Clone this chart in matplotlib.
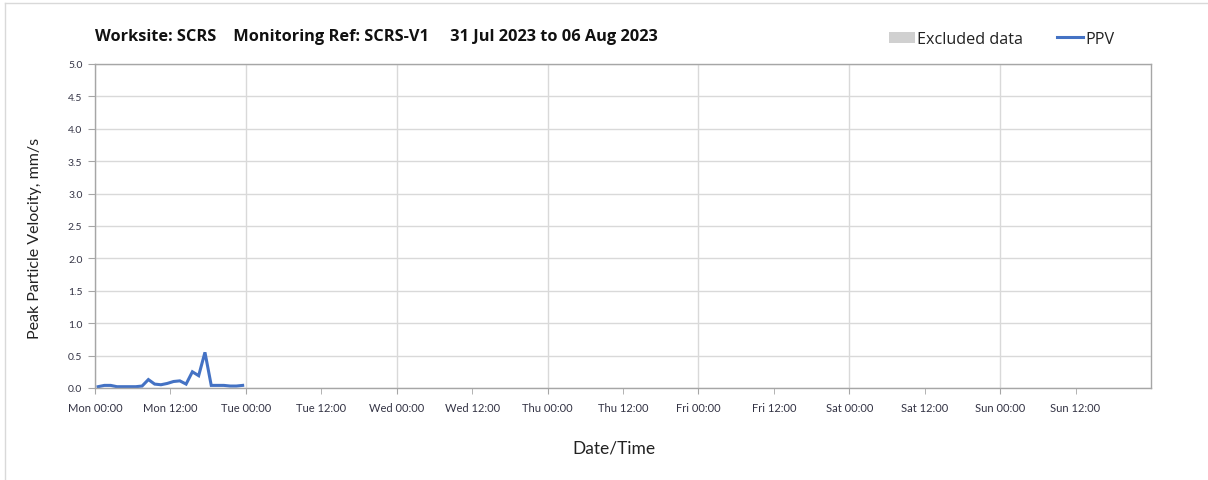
import numpy as np
import pandas as pd
import matplotlib
matplotlib.use("Agg")
import matplotlib.pyplot as plt
import matplotlib.dates as mdates
from matplotlib.patches import Patch
from matplotlib.lines import Line2D

plt.rcParams['font.family'] = ['Lato', 'DejaVu Sans']

# hourly PPV readings (mm/s), first day only
start = pd.Timestamp("2023-07-31 00:30")
ppv = [0.02, 0.04, 0.04, 0.02, 0.02, 0.02, 0.02, 0.03, 0.13, 0.06, 0.05, 0.07,
       0.10, 0.11, 0.06, 0.25, 0.19, 0.55, 0.04, 0.04, 0.04, 0.03, 0.03, 0.04]
times = pd.date_range(start, periods=len(ppv), freq="h")

title = "Worksite: SCRS    Monitoring Ref: SCRS-V1     31 Jul 2023 to 06 Aug 2023"
x_start = pd.Timestamp("2023-07-31")
x_end = pd.Timestamp("2023-08-07")

fig = plt.figure(figsize=(12.08, 4.81), dpi=100)
ax = fig.add_axes([0.0786, 0.1913, 0.8742, 0.6736])

ax.plot(times, ppv, color="#4472C4", lw=2.2, solid_joinstyle="miter")

ax.set_xlim(x_start, x_end)
ax.set_ylim(0, 5)
ax.set_yticks(np.arange(0, 5.01, 0.5))
ax.yaxis.set_major_formatter(matplotlib.ticker.FormatStrFormatter("%.1f"))

ax.xaxis.set_major_locator(mdates.DayLocator())
ax.xaxis.set_minor_locator(mdates.HourLocator(byhour=12))
fmt = mdates.DateFormatter("%a %H:%M")
ax.xaxis.set_major_formatter(fmt)
ax.xaxis.set_minor_formatter(fmt)
ax.tick_params(axis="x", which="both", labelsize=8, labelcolor="#333344",
               color="#a6a6a6", length=4, pad=6)
ax.tick_params(axis="y", labelsize=7.5, labelcolor="#333344", color="#a6a6a6",
               length=5, pad=4)
# drop the trailing midnight label at the right edge
ax.set_xticks(ax.get_xticks()[:-1])

ax.grid(True, which="major", color="#d9d9d9", lw=1)
ax.set_axisbelow(True)
for s in ax.spines.values():
    s.set_color("#a6a6a6")
    s.set_linewidth(1)

ax.set_xlabel("Date/Time", fontsize=12.5, color="#222222")
ax.xaxis.set_label_coords(0.4915, -0.158)
ax.set_ylabel("Peak Particle Velocity, mm/s", fontsize=11.5, color="#222222")
ax.yaxis.set_label_coords(-0.05, 0.466)

fig.text(0.0786, 0.923, title, fontsize=11.8, fontweight="bold", color="#111111",
         va="center", ha="left", family=["Open Sans", "DejaVu Sans"])

handles = [Patch(facecolor="#d0d0d0", edgecolor="none"),
           Line2D([], [], color="#4472C4", lw=2.2)]
fig.legend(handles, ["Excluded data", "PPV"], ncol=2, frameon=False,
           loc="center left", bbox_to_anchor=(0.724, 0.917),
           prop={"family": ["Open Sans", "DejaVu Sans"], "size": 11.6},
           handlelength=1.6, handleheight=0.7, handletextpad=0.15,
           columnspacing=2.1, labelcolor="#222222")

# light frame along the left and top edges
fig.add_artist(Line2D([5 / 1208, 5 / 1208], [0, 1 - 4 / 481],
                      transform=fig.transFigure, color="#d9d9d9", lw=1))
fig.add_artist(Line2D([5 / 1208, 1], [1 - 4 / 481, 1 - 4 / 481],
                      transform=fig.transFigure, color="#d9d9d9", lw=1))

fig.savefig("out.png", dpi=100)
